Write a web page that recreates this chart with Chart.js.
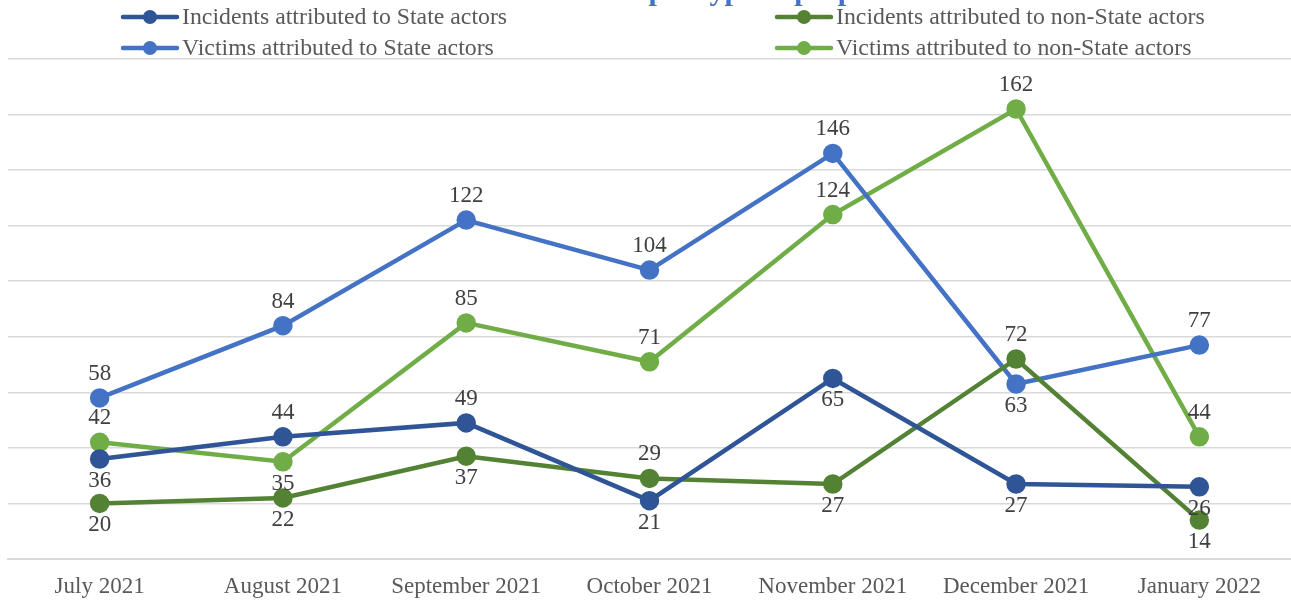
<!DOCTYPE html>
<html>
<head>
<meta charset="utf-8">
<script src="https://cdn.jsdelivr.net/npm/chart.js@4/dist/chart.umd.min.js"></script>
<style>
html,body{margin:0;padding:0;background:#fff;overflow:hidden;}
#wrap{width:1291px;height:601px;position:relative;overflow:hidden;}
canvas{display:block;}
</style>
</head>
<body>
<div id="wrap"><canvas id="c" width="1291" height="601"></canvas></div>
<script>
const chartTitle = "Incidents and victims per type of perpetrator";
const months = ["July 2021","August 2021","September 2021","October 2021","November 2021","December 2021","January 2022"];
const incidentsState = [36, 44, 49, 21, 65, 27, 26];
const incidentsNonState = [20, 22, 37, 29, 27, 72, 14];
const victimsState = [58, 84, 122, 104, 146, 63, 77];
const victimsNonState = [42, 35, 85, 71, 124, 162, 44];
const seriesNames = ["Incidents attributed to State actors","Incidents attributed to non-State actors","Victims attributed to State actors","Victims attributed to non-State actors"];
// label placement ('a' above / 'b' below) for each series
const placeIncState = ['b','a','a','b','b','b','b'];
const placeIncNonState = ['b','b','b','a','b','a','b'];
const placeVicState = ['a','a','a','a','a','b','a'];
const placeVicNonState = ['a','b','a','a','a','a','a'];

const SERIF = '"Liberation Serif", "Times New Roman", serif';
const colors = ['#2F5597','#548235','#4472C4','#70AD47'];
const places = [placeIncState, placeIncNonState, placeVicState, placeVicNonState];
const values = [incidentsState, incidentsNonState, victimsState, victimsNonState];

const datasets = values.map((v,i)=>({
  label: seriesNames[i],
  data: v,
  borderColor: colors[i],
  backgroundColor: colors[i],
  pointBackgroundColor: colors[i],
  pointBorderColor: colors[i],
  borderWidth: 4.5,
  pointRadius: 7.5,
  pointHoverRadius: 7.5,
  tension: 0,
  fill: false,
  clip: false,
  place: places[i]
}));

const titlePlugin = {
  id: 'cutTitle',
  afterDraw(chart){
    const ctx = chart.ctx;
    ctx.save();
    ctx.font = 'bold 30px ' + SERIF;
    ctx.fillStyle = '#4472C4';
    ctx.textAlign = 'center';
    ctx.textBaseline = 'alphabetic';
    ctx.fillText(chartTitle, 656, 0);
    ctx.restore();
  }
};

const labelPlugin = {
  id: 'valueLabels',
  afterDatasetsDraw(chart){
    const ctx = chart.ctx;
    ctx.save();
    ctx.font = '23px ' + SERIF;
    ctx.fillStyle = '#404040';
    ctx.textAlign = 'center';
    ctx.textBaseline = 'middle';
    chart.data.datasets.forEach((ds, di)=>{
      const meta = chart.getDatasetMeta(di);
      meta.data.forEach((pt, j)=>{
        const p = ds.place[j];
        const y = p === 'a' ? pt.y - 24 : pt.y + 22;
        ctx.fillText(String(ds.data[j]), pt.x, y);
      });
    });
    ctx.restore();
  }
};

const legendPlugin = {
  id: 'customLegend',
  afterDraw(chart){
    const ctx = chart.ctx;
    const pos = [[123,17],[777,17],[123,48],[777,48]];
    ctx.save();
    chart.data.datasets.forEach((ds,i)=>{
      const [x,y] = pos[i];
      ctx.strokeStyle = ds.borderColor;
      ctx.lineWidth = 4.5;
      ctx.lineCap = 'round';
      ctx.beginPath(); ctx.moveTo(x, y); ctx.lineTo(x+54, y); ctx.stroke();
      ctx.fillStyle = ds.borderColor;
      ctx.beginPath(); ctx.arc(x+27, y, 7, 0, Math.PI*2); ctx.fill();
      ctx.font = '23.8px ' + SERIF;
      ctx.fillStyle = '#595959';
      ctx.textAlign = 'left';
      ctx.textBaseline = 'middle';
      ctx.fillText(ds.label, x+59, y+1);
    });
    ctx.restore();
  }
};

new Chart(document.getElementById('c'), {
  type: 'line',
  data: { labels: months, datasets },
  plugins: [labelPlugin, legendPlugin, titlePlugin],
  options: {
    responsive: false,
    animation: false,
    devicePixelRatio: 1,
    layout: { autoPadding: false, padding: { top: 59, left: 8, right: -4, bottom: 0 } },
    plugins: { legend: { display: false }, title: { display: false }, tooltip: { enabled: false } },
    scales: {
      x: {
        offset: true,
        grid: { display: false, drawTicks: false },
        border: { display: true, color: '#D9D9D9', width: 2 },
        ticks: { color: '#595959', font: { family: SERIF, size: 23, lineHeight: 1.2 }, padding: 14, maxRotation: 0, autoSkip: false },
        afterFit(s){ s.height = 42; s.paddingLeft = 0; s.paddingRight = 0; }
      },
      y: {
        min: 0, max: 180,
        grid: { color: '#D9D9D9', lineWidth: 1.5, drawTicks: false },
        border: { display: false },
        ticks: { display: false, stepSize: 20 },
        afterFit(s){ s.width = 0; }
      }
    }
  }
});
</script>
</body>
</html>
